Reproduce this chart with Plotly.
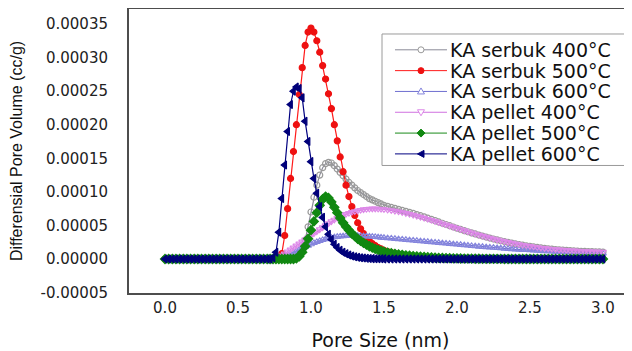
import plotly.graph_objects as go

# Pore size grid (nm)
pore_size = [
    0.0, 0.025, 0.05, 0.075, 0.1, 0.125, 0.15, 0.175, 0.2, 0.225,
    0.25, 0.275, 0.3, 0.325, 0.35, 0.375, 0.4, 0.425, 0.45, 0.475,
    0.5, 0.525, 0.55, 0.575, 0.6, 0.625, 0.65, 0.675, 0.7,
    0.72, 0.74, 0.76, 0.78, 0.80, 0.82, 0.84, 0.86, 0.88, 0.90,
    0.92, 0.94, 0.96, 0.98, 1.00, 1.02, 1.04, 1.06, 1.08, 1.10,
    1.12, 1.14, 1.16, 1.18, 1.20, 1.22, 1.24, 1.26, 1.28, 1.30,
    1.32, 1.34, 1.36, 1.38, 1.40, 1.42, 1.44, 1.46, 1.48, 1.50,
    1.525, 1.55, 1.575, 1.60, 1.625, 1.65, 1.675, 1.70, 1.725, 1.75,
    1.775, 1.80, 1.825, 1.85, 1.875, 1.90, 1.925, 1.95, 1.975, 2.00,
    2.025, 2.05, 2.075, 2.10, 2.125, 2.15, 2.175, 2.20, 2.225, 2.25,
    2.275, 2.30, 2.325, 2.35, 2.375, 2.40, 2.425, 2.45, 2.475, 2.50,
    2.525, 2.55, 2.575, 2.60, 2.625, 2.65, 2.675, 2.70, 2.725, 2.75,
    2.775, 2.80, 2.825, 2.85, 2.875, 2.90, 2.925, 2.95, 2.975, 3.00,
]

# Differential pore volume, in units of 1e-5 cc/g
serbuk_400 = [
    0, 0, 0, 0, 0, 0, 0, 0, 0, 0, 0, 0, 0, 0, 0, 0, 0, 0, 0, 0, 0, 0, 0, 0, 0, 0, 0, 0, 0,
    0, 0, 0, 0, 0, 0, 0, 0.1, 0.2, 0.4,
    0.8, 1.5, 2.8, 4.8, 7.0, 9.2, 11.0, 12.5, 13.6, 14.2,
    14.4, 14.3, 13.9, 13.4, 12.9, 12.4, 11.9, 11.4, 11.0, 10.6,
    10.2, 9.9, 9.6, 9.3, 9.0, 8.8, 8.6, 8.4, 8.2, 8.0,
    7.85, 7.7, 7.55, 7.4, 7.25, 7.1, 6.95, 6.8, 6.62, 6.45,
    6.27, 6.08, 5.9, 5.72, 5.52, 5.33, 5.14, 4.96, 4.77, 4.58,
    4.4, 4.23, 4.06, 3.89, 3.73, 3.57, 3.42, 3.27, 3.12, 2.98,
    2.85, 2.72, 2.6, 2.48, 2.37, 2.26, 2.16, 2.06, 1.97, 1.88,
    1.8, 1.72, 1.65, 1.58, 1.52, 1.46, 1.41, 1.36, 1.32, 1.28,
    1.24, 1.21, 1.18, 1.15, 1.13, 1.11, 1.09, 1.07, 1.05, 1.03,
]
serbuk_500 = [
    0, 0, 0, 0, 0, 0, 0, 0, 0, 0, 0, 0, 0, 0, 0, 0, 0, 0, 0, 0, 0, 0, 0, 0, 0, 0, 0, 0, 0,
    0, 0, 0, 0.2, 0.8, 3.5, 7.5, 12.0, 16.0, 20.0,
    24.5, 28.5, 31.8, 33.8, 34.4, 33.8, 32.5, 30.8, 28.8, 26.8,
    24.6, 22.4, 20.0, 17.6, 15.2, 13.0, 11.0, 9.3, 7.8, 6.5,
    5.4, 4.5, 3.8, 3.2, 2.7, 2.3, 2.0, 1.7, 1.5, 1.3,
    1.1, 0.95, 0.82, 0.7, 0.6, 0.5, 0.42, 0.35, 0.29, 0.24,
    0.19, 0.15, 0.12, 0.09, 0.07, 0.05, 0.04, 0.03, 0.02, 0.01,
    0, 0, 0, 0, 0, 0, 0, 0, 0, 0,
    0, 0, 0, 0, 0, 0, 0, 0, 0, 0,
    0, 0, 0, 0, 0, 0, 0, 0, 0, 0,
    0, 0, 0, 0, 0, 0, 0, 0, 0, 0,
]
serbuk_600 = [
    0, 0, 0, 0, 0, 0, 0, 0, 0, 0, 0, 0, 0, 0, 0, 0, 0, 0, 0, 0, 0, 0, 0, 0, 0, 0, 0, 0, 0,
    0, 0, 0.05, 0.15, 0.3, 0.45, 0.6, 0.8, 1.0, 1.2,
    1.4, 1.6, 1.8, 2.0, 2.2, 2.4, 2.55, 2.7, 2.85, 2.97,
    3.08, 3.17, 3.25, 3.31, 3.36, 3.4, 3.43, 3.45, 3.46, 3.46,
    3.45, 3.43, 3.41, 3.38, 3.35, 3.32, 3.28, 3.24, 3.2, 3.16,
    3.11, 3.06, 3.01, 2.96, 2.91, 2.86, 2.81, 2.76, 2.71, 2.66,
    2.61, 2.56, 2.51, 2.46, 2.41, 2.36, 2.31, 2.26, 2.21, 2.16,
    2.11, 2.06, 2.01, 1.96, 1.91, 1.86, 1.82, 1.77, 1.73, 1.68,
    1.64, 1.6, 1.56, 1.52, 1.48, 1.44, 1.41, 1.37, 1.34, 1.31,
    1.28, 1.25, 1.22, 1.19, 1.16, 1.13, 1.1, 1.08, 1.05, 1.03,
    1.01, 0.99, 0.97, 0.95, 0.93, 0.91, 0.89, 0.87, 0.85, 0.83,
]
pellet_400 = [
    0, 0, 0, 0, 0, 0, 0, 0, 0, 0, 0, 0, 0, 0, 0, 0, 0, 0, 0, 0, 0, 0, 0, 0, 0, 0, 0, 0, 0,
    0, 0, 0.1, 0.3, 0.5, 0.8, 1.1, 1.4, 1.7, 2.0,
    2.3, 2.6, 2.9, 3.2, 3.5, 3.8, 4.1, 4.4, 4.7, 5.0,
    5.3, 5.6, 5.85, 6.1, 6.3, 6.5, 6.7, 6.85, 7.0, 7.1,
    7.2, 7.3, 7.38, 7.44, 7.48, 7.5, 7.5, 7.48, 7.45, 7.4,
    7.33, 7.25, 7.16, 7.06, 6.95, 6.83, 6.7, 6.56, 6.42, 6.27,
    6.12, 5.96, 5.8, 5.63, 5.46, 5.29, 5.12, 4.95, 4.78, 4.6,
    4.43, 4.26, 4.09, 3.92, 3.76, 3.6, 3.45, 3.3, 3.15, 3.01,
    2.88, 2.75, 2.63, 2.51, 2.4, 2.29, 2.19, 2.09, 2.0, 1.91,
    1.83, 1.75, 1.68, 1.61, 1.55, 1.49, 1.44, 1.39, 1.35, 1.31,
    1.27, 1.24, 1.21, 1.18, 1.16, 1.14, 1.12, 1.1, 1.08, 1.06,
]
pellet_500 = [
    0, 0, 0, 0, 0, 0, 0, 0, 0, 0, 0, 0, 0, 0, 0, 0, 0, 0, 0, 0, 0, 0, 0, 0, 0, 0, 0, 0, 0,
    0, 0, 0, 0, 0, 0, 0, 0, 0, 0.1,
    0.4, 1.0, 1.9, 3.0, 4.3, 5.6, 6.9, 8.0, 8.9, 9.3,
    9.1, 8.5, 7.7, 6.9, 6.1, 5.4, 4.8, 4.3, 3.8, 3.4,
    3.0, 2.7, 2.4, 2.15, 1.9, 1.7, 1.5, 1.35, 1.2, 1.08,
    0.96, 0.86, 0.77, 0.69, 0.62, 0.55, 0.49, 0.44, 0.39, 0.35,
    0.31, 0.27, 0.24, 0.21, 0.18, 0.16, 0.14, 0.12, 0.1, 0.09,
    0.08, 0.07, 0.06, 0.05, 0.04, 0.04, 0.03, 0.03, 0.02, 0.02,
    0.02, 0.01, 0, 0, 0, 0, 0, 0, 0, 0,
    0, 0, 0, 0, 0, 0, 0, 0, 0, 0,
    0, 0, 0, 0, 0, 0, 0, 0, 0, 0,
]
pellet_600 = [
    0, 0, 0, 0, 0, 0, 0, 0, 0, 0, 0, 0, 0, 0, 0, 0, 0, 0, 0, 0, 0, 0, 0, 0, 0, 0, 0, 0, 0,
    0, 0.2, 1.0, 4.0, 9.0, 14.0, 19.0, 23.0, 25.0, 25.6,
    25.4, 24.0, 20.5, 17.5, 14.5, 12.0, 9.8, 7.8, 6.2, 4.8,
    3.7, 2.9, 2.2, 1.7, 1.3, 1.0, 0.8, 0.6, 0.45, 0.35,
    0.25, 0.2, 0.15, 0.1, 0.08, 0.06, 0.05, 0.04, 0.03, 0.02,
    0.01, 0.01, 0, 0, 0, 0, 0, 0, 0, 0,
    0, 0, 0, 0, 0, 0, 0, 0, 0, 0,
    0, 0, 0, 0, 0, 0, 0, 0, 0, 0,
    0, 0, 0, 0, 0, 0, 0, 0, 0, 0,
    0, 0, 0, 0, 0, 0, 0, 0, 0, 0,
    0, 0, 0, 0, 0, 0, 0, 0, 0, 0,
]

series_names = ["KA serbuk 400°C", "KA serbuk 500°C", "KA serbuk 600°C",
                "KA pellet 400°C", "KA pellet 500°C", "KA pellet 600°C"]
series_values = [serbuk_400, serbuk_500, serbuk_600, pellet_400, pellet_500, pellet_600]

x_tick_vals = [0.0, 0.5, 1.0, 1.5, 2.0, 2.5, 3.0]
x_tick_text = ["0.0", "0.5", "1.0", "1.5", "2.0", "2.5", "3.0"]
y_tick_vals = [-0.00005, 0.0, 0.00005, 0.0001, 0.00015, 0.0002, 0.00025, 0.0003, 0.00035]
y_tick_text = ["-0.00005", "0.00000", "0.00005", "0.00010", "0.00015",
               "0.00020", "0.00025", "0.00030", "0.00035"]

styles = [
    dict(line="#8a8a98", symbol="circle-open", mcolor="#9a9a9a", size=6,
         key_path=None, key_fill="white"),
    dict(line="#ff1a1a", symbol="circle", mcolor="#ee1111", size=6,
         key_path=None, key_fill="#ee1111"),
    dict(line="#6f6fd0", symbol="triangle-up-open", mcolor="#8585dd", size=6,
         key_path="M-3.5,-2.5 L3.5,-2.5 L0,3.5 Z", key_fill="white"),
    dict(line="#d070e0", symbol="triangle-down-open", mcolor="#dd88e8", size=6,
         key_path="M-3.5,2.5 L3.5,2.5 L0,-3.5 Z", key_fill="white"),
    dict(line="#1a8a1a", symbol="diamond", mcolor="#118811", size=7,
         key_path="M0,4 L4,0 L0,-4 L-4,0 Z", key_fill="#118811"),
    dict(line="#000080", symbol="triangle-left", mcolor="#00007a", size=7,
         key_path="M-3.5,0 L3,3.5 L3,-3.5 Z", key_fill="#00007a"),
]

fig = go.Figure()
for name, vals, st in zip(series_names, series_values, styles):
    y = [v * 1e-5 for v in vals]
    n = min(len(pore_size), len(y))
    fig.add_trace(go.Scatter(
        x=pore_size[:n], y=y[:n], name=name, mode="lines+markers", showlegend=False,
        line=dict(color=st["line"], width=1.2),
        marker=dict(symbol=st["symbol"], color=st["mcolor"], size=st["size"],
                    line=dict(color=st["mcolor"], width=1.2)),
    ))

# ---- hand-drawn legend box (paper coordinates) ----
box_x0, box_x1, box_y0, box_y1 = 0.503, 0.990, 0.449, 0.912
key_x0, key_x1, key_xm, text_x = 0.5288, 0.6322, 0.5805, 0.634
entry_top, entry_step = 0.8563, 0.0733

shapes = [dict(type="rect", xref="paper", yref="paper", x0=box_x0, x1=box_x1,
               y0=box_y0, y1=box_y1, line=dict(color="#9a9a9a", width=1),
               fillcolor="white", layer="above")]
annotations = []
for i, (name, st) in enumerate(zip(series_names, styles)):
    yc = entry_top - i * entry_step
    shapes.append(dict(type="line", xref="paper", yref="paper", x0=key_x0, x1=key_x1,
                       y0=yc, y1=yc, line=dict(color=st["line"], width=1), layer="above"))
    if st["key_path"] is None:
        shapes.append(dict(type="circle", xref="paper", yref="paper", xsizemode="pixel",
                           ysizemode="pixel", xanchor=key_xm, yanchor=yc,
                           x0=-3, x1=3, y0=-3, y1=3,
                           fillcolor=st["key_fill"], line=dict(color=st["mcolor"], width=1),
                           layer="above"))
    else:
        shapes.append(dict(type="path", xref="paper", yref="paper", xsizemode="pixel",
                           ysizemode="pixel", xanchor=key_xm, yanchor=yc, path=st["key_path"],
                           fillcolor=st["key_fill"], line=dict(color=st["mcolor"], width=1),
                           layer="above"))
    annotations.append(dict(xref="paper", yref="paper", x=text_x, y=yc, text=name,
                            xanchor="left", yanchor="middle", showarrow=False,
                            font=dict(family="DejaVu Sans", size=19, color="#111")))

tick_font = dict(family="DejaVu Sans", size=15, color="#222")
# page body keeps an 8px margin, so the figure is 8px smaller than the window
fig.update_layout(
    width=624, height=343,
    margin=dict(l=121, r=0, t=1, b=58),
    paper_bgcolor="white", plot_bgcolor="white",
    showlegend=False,
    shapes=shapes, annotations=annotations,
    xaxis=dict(range=[-0.2466, 3.199], tickvals=x_tick_vals, ticktext=x_tick_text,
               showline=True, linecolor="#4d4d4d", linewidth=2, mirror=True,
               showgrid=False, zeroline=False, ticks="", tickfont=tick_font,
               ticklabelstandoff=0, automargin=False,
               title=dict(text="Pore Size (nm)", font=dict(family="DejaVu Sans", size=19, color="#111"),
                          standoff=22)),
    yaxis=dict(range=[-0.0000506, 0.0003723], tickvals=y_tick_vals, ticktext=y_tick_text,
               showline=True, linecolor="#4d4d4d", linewidth=2, mirror=False,
               showgrid=False, zeroline=False, ticks="", tickfont=tick_font,
               ticklabelstandoff=16, automargin=False,
               title=dict(text="Differensial Pore Volume (cc/g)",
                          font=dict(family="Liberation Sans", size=16, color="#111"),
                          standoff=14)),
)

fig.write_html("out.html")
